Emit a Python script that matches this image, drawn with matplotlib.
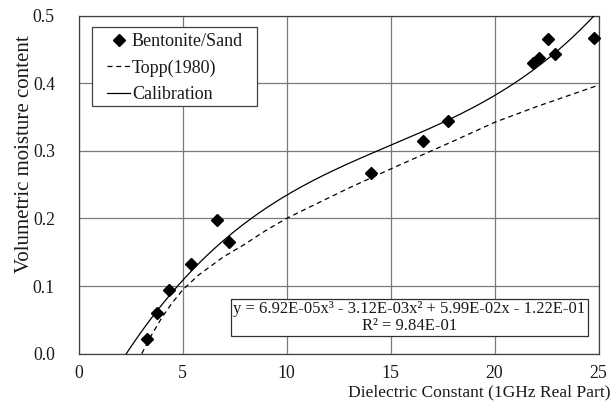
import numpy as np
import matplotlib
matplotlib.use("Agg")
import matplotlib.pyplot as plt
from matplotlib.lines import Line2D
from matplotlib.patches import Rectangle

# ---- data ----
dielectric = [3.28, 3.79, 4.34, 5.39, 6.67, 7.24, 14.05, 16.55, 17.78, 21.87, 22.15, 22.56, 22.93, 24.80]
moisture = [0.021, 0.060, 0.094, 0.132, 0.198, 0.165, 0.267, 0.314, 0.344, 0.430, 0.437, 0.465, 0.443, 0.466]

# Topp (1980) curve as drawn
topp_x = [3.04, 3.5, 4.0, 4.5, 5.0, 5.76, 6.96, 8.0, 9.0, 10.0, 11.13, 12.0, 13.0, 14.0, 15.0, 16.9, 18.0, 20.0, 22.0, 25.0]
topp_y = [0.0, 0.027, 0.053, 0.075, 0.094, 0.116, 0.143, 0.162, 0.182, 0.200, 0.217, 0.230, 0.245, 0.259, 0.273, 0.299, 0.314, 0.342, 0.365, 0.397]

# calibration trendline coefficients (cubic, as printed on the chart)
calib_coef = [6.92e-05, -3.12e-03, 5.99e-02, -1.22e-01]
r_squared = 9.84e-01

x_ticks = [0, 5, 10, 15, 20, 25]
y_ticks = [0.0, 0.1, 0.2, 0.3, 0.4, 0.5]

plt.rcParams['font.family'] = ['Liberation Serif', 'DejaVu Serif']
FS = 13
TXT = '#1a1a1a'
W, H = 613, 403

fig = plt.figure(figsize=(6.13, 4.03), dpi=100)
ax = fig.add_axes([78.5 / W, 1 - 353.7 / H, (598.5 - 78.5) / W, (353.7 - 15.5) / H])

ax.set_xlim(0, 25)
ax.set_ylim(0, 0.5)
ax.set_xticks(x_ticks)
ax.set_xticklabels([str(t) for t in x_ticks])
ax.set_yticks(y_ticks)
ax.set_yticklabels(['%.1f' % t for t in y_ticks])
ax.tick_params(axis='both', length=0, labelsize=12.8, colors=TXT)
ax.tick_params(axis='y', pad=17)
ax.tick_params(axis='x', pad=8)
ax.grid(True, color='#7a7a7a', linewidth=0.9)
ax.set_axisbelow(True)
for s in ax.spines.values():
    s.set_color('#404040')
    s.set_linewidth(0.9)

# calibration curve
xc = np.linspace(2.0, 25.0, 400)
yc = np.polyval(calib_coef, xc)
ax.plot(xc, yc, color='black', linewidth=0.9, label='Calibration', zorder=3)

# Topp curve
ax.plot(topp_x, topp_y, color='black', linewidth=0.9, linestyle=(0, (4, 3)), label='Topp(1980)', zorder=3)

# data points
ax.plot(dielectric, moisture, linestyle='none', marker='D', markersize=6.4,
        color='black', label='Bentonite/Sand', zorder=4, clip_on=False)

# legend frame (drawn separately to match the reference padding)
fig.patches.append(Rectangle((92 / W, 1 - 106 / H), (257 - 92) / W, (106 - 27) / H,
                             transform=fig.transFigure, facecolor='white',
                             edgecolor='#404040', linewidth=0.9, zorder=5))

handles = [
    Line2D([], [], linestyle='none', marker='D', markersize=6.4, color='black'),
    Line2D([], [], color='black', linewidth=0.9, linestyle=(0, (4, 3))),
    Line2D([], [], color='black', linewidth=0.9),
]
leg = fig.legend(handles, ['Bentonite/Sand', 'Topp(1980)', 'Calibration'],
                 loc='upper left', bbox_to_anchor=(107 / W, 1 - 33.5 / H),
                 bbox_transform=fig.transFigure, borderaxespad=0,
                 fontsize=FS, frameon=False,
                 handlelength=1.3, handletextpad=0.08, labelspacing=0.5, borderpad=0)
leg.set_zorder(6)
for t in leg.get_texts():
    t.set_color(TXT)

# equation box
c = calib_coef
def fmt(v):
    m, e = ('%.2E' % abs(v)).split('E')
    return '%sE-%02d' % (m, abs(int(e))) if int(e) < 0 else '%sE+%02d' % (m, int(e))
eq = 'y = %sx³ - %sx² + %sx - %s\nR² = %s' % (fmt(c[0]), fmt(c[1]), fmt(c[2]), fmt(c[3]), fmt(r_squared))
ax.text(15.91, 0.0535, eq, ha='center', va='center', multialignment='center',
        fontsize=12, color=TXT, linespacing=1.05, zorder=5,
        bbox=dict(boxstyle='square,pad=0.13', facecolor='white', edgecolor='#303030', linewidth=0.9))

fig.text(611 / W, 1 - 392.5 / H, 'Dielectric Constant (1GHz Real Part)', ha='right', va='center',
         fontsize=12.6, color=TXT)
fig.text(25 / W, 1 - 154 / H, 'Volumetric moisture content', ha='center', va='center',
         rotation=90, fontsize=15, color=TXT)

fig.savefig('out.png', dpi=100, facecolor='white')
